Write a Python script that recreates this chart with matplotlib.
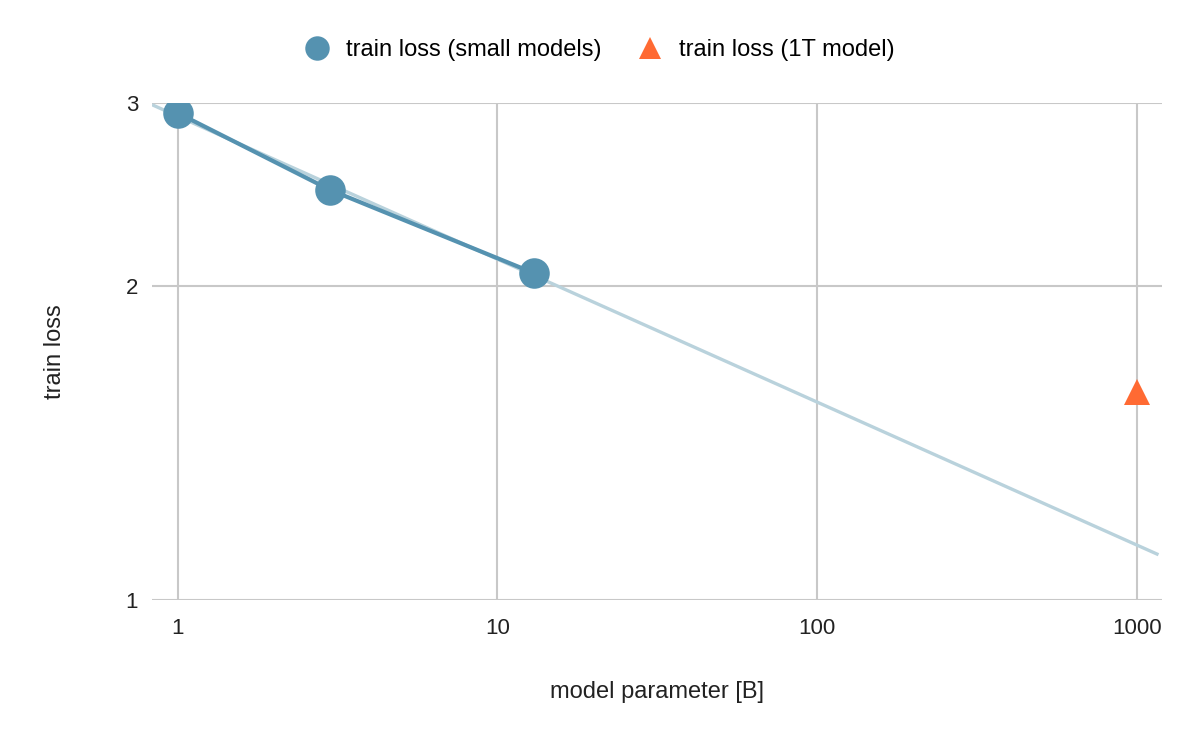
import numpy as np
import matplotlib
matplotlib.use("Agg")
import matplotlib.pyplot as plt
from matplotlib.ticker import FixedLocator, NullLocator, FixedFormatter

# datos
params_small = np.array([1.0, 3.0, 13.0])
loss_small = np.array([2.934, 2.475, 2.060])
params_big = np.array([1000.0])
loss_big = np.array([1.583])

x_ticks = [1, 10, 100, 1000]
x_labels = ["1", "10", "100", "1000"]
y_ticks = [1, 2, 3]
y_labels = ["1", "2", "3"]

plt.rcParams['font.family'] = ['Liberation Sans', 'DejaVu Sans']

fig = plt.figure(figsize=(12, 7.42), dpi=100)
ax = fig.add_axes([152/1200, 1 - 600/742, (1162 - 152)/1200, (600 - 103)/742])

# linea de tendencia (ajuste potencial sobre los modelos pequenos)
coef = np.polyfit(np.log10(params_small), np.log10(loss_small), 1)
xt = np.array([0.83, 1170.0])
yt = 10 ** np.polyval(coef, np.log10(xt))
ax.plot(xt, yt, color='#b9d2dc', linewidth=2.4, zorder=2, solid_capstyle='butt')

ax.plot(params_small, loss_small, color='#5592b0', linewidth=3.0, zorder=3)
ax.plot(params_small, loss_small, 'o', color='#5592b0', markersize=22,
        markeredgewidth=0, zorder=4, label='train loss (small models)')
ax.plot(params_big, loss_big, '^', color='#ff6a33', markersize=19,
        markeredgewidth=0, zorder=4, label='train loss (1T model)')

ax.set_xscale('log')
ax.set_yscale('log')
ax.set_xlim(0.83, 1200)
ax.set_ylim(1, 3)

ax.xaxis.set_major_locator(FixedLocator(x_ticks))
ax.xaxis.set_major_formatter(FixedFormatter(x_labels))
ax.xaxis.set_minor_locator(NullLocator())
ax.yaxis.set_major_locator(FixedLocator(y_ticks))
ax.yaxis.set_major_formatter(FixedFormatter(y_labels))
ax.yaxis.set_minor_locator(NullLocator())

for s in ax.spines.values():
    s.set_visible(False)
ax.grid(True, color='#c8c8c8', linewidth=1.5)
ax.set_axisbelow(True)
ax.tick_params(length=0, labelsize=16, colors='#222222')
ax.tick_params(axis='x', pad=13)
ax.tick_params(axis='y', pad=10)

ax.set_xlabel('model parameter [B]', fontsize=17, color='#222222', labelpad=30)
ax.set_ylabel('train loss', fontsize=17, color='#222222', labelpad=43)

ax.legend(loc='center', bbox_to_anchor=(594/1200, 1 - 50/742), bbox_transform=fig.transFigure,
          ncol=2, frameon=False, fontsize=17, handletextpad=0.25, columnspacing=1.05,
          markerscale=0.8)

fig.savefig('out.png', dpi=100)
